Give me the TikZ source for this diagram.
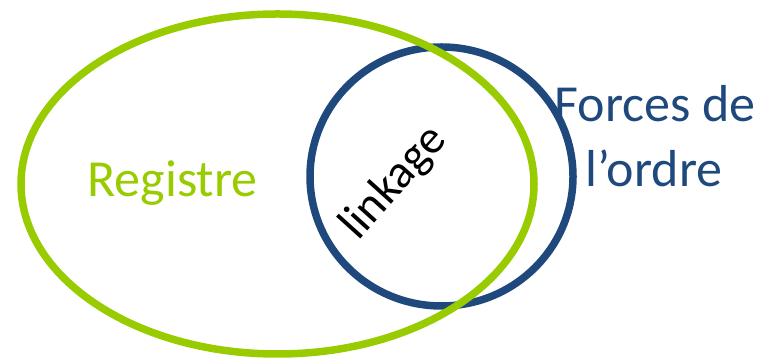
\documentclass[tikz,border=0pt]{standalone}
\usepackage{fontspec}
\setmainfont{Carlito}
\usetikzlibrary{shapes.geometric}
\definecolor{regcol}{HTML}{99CC00}
\definecolor{forcol}{HTML}{1F497D}
\tikzset{
  ring/.style={draw, ellipse, inner sep=0pt, line width=7.5pt},
  lbl/.style={inner sep=0pt, font=\fontsize{52}{62}\selectfont},
}
\begin{document}
\begin{tikzpicture}[x=1pt,y=1pt]
\useasboundingbox (0,0) rectangle (767,363);
\node[ring, draw=forcol, minimum width=263pt, minimum height=259pt] (forces) at (441.5,186.5) {};
\node[ring, draw=regcol, minimum width=513pt, minimum height=340pt] (registre) at (277.5,179) {};
\node[lbl, text=regcol, anchor=base] (reglbl) at (172.5,166) {Registre};
\node[lbl, text=forcol, anchor=base] (forlbl1) at (655,241) {Forces de};
\node[lbl, text=forcol, anchor=base] (forlbl2) at (654,176) {l’ordre};
\node[lbl, font=\fontsize{47}{56}\selectfont, rotate=48] (link) at (394,180) {linkage};
\end{tikzpicture}
\end{document}
